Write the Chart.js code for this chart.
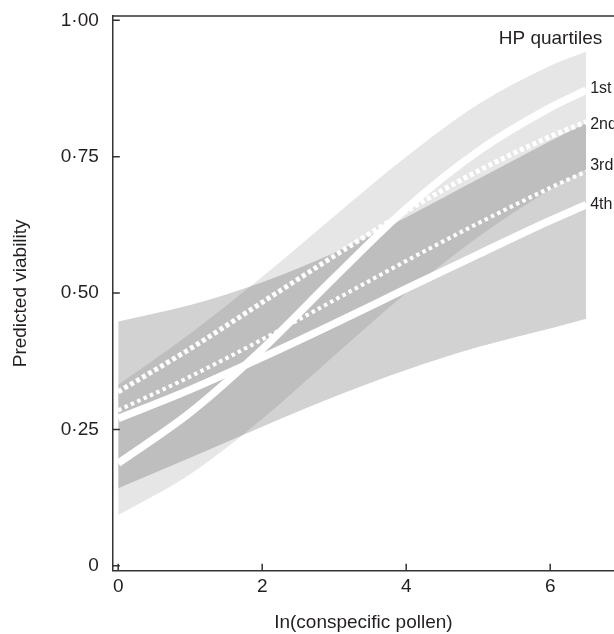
<!DOCTYPE html>
<html lang="en">
<head>
    <meta charset="UTF-8">
    <title>Predicted viability</title>
    <script src="https://cdn.jsdelivr.net/npm/chart.js@4.4.1/dist/chart.umd.min.js"></script>
    <style>
        body { margin: 0; background: #fff; }
        canvas { display: block; }
    </style>
</head>
<body>
    <canvas id="viabilityChart" width="614" height="634"></canvas>

    <script>
        // values, ln(conspecific pollen) on x
        const xVals = [0, 1, 2, 3, 4, 5, 6, 6.5];

        const q1 = [0.188, 0.281, 0.397, 0.528, 0.655, 0.760, 0.840, 0.872];
        const q2 = [0.319, 0.398, 0.483, 0.568, 0.650, 0.724, 0.787, 0.814];
        const q3 = [0.285, 0.347, 0.415, 0.487, 0.559, 0.628, 0.693, 0.723];
        const q4 = [0.270, 0.323, 0.382, 0.444, 0.508, 0.571, 0.633, 0.662];

        // confidence bands (1st and 4th quartile only)
        const q1Upper = [0.332, 0.426, 0.530, 0.641, 0.750, 0.846, 0.917, 0.943];
        const q1Lower = [0.093, 0.168, 0.269, 0.385, 0.500, 0.603, 0.690, 0.727];
        const q4Upper = [0.448, 0.478, 0.520, 0.574, 0.639, 0.709, 0.779, 0.812];
        const q4Lower = [0.142, 0.198, 0.255, 0.310, 0.359, 0.401, 0.435, 0.453];

        const quartileNames = ['1st', '2nd', '3rd', '4th'];
        const xTicks = [0, 2, 4, 6];
        const yTicks = [0, 0.25, 0.5, 0.75, 1];
        const yTickLabels = ['0', '0·25', '0·50', '0·75', '1·00'];

        const FONT = "'Liberation Sans', Arial, Helvetica, sans-serif";
        const INK = '#231f20';
        Chart.defaults.font.family = FONT;
        Chart.defaults.color = INK;

        const pts = arr => arr.map((v, i) => ({ x: xVals[i], y: v }));

        function band(upper, lower, colour) {
            return [
                { data: pts(upper), fill: '+1', backgroundColor: colour, borderWidth: 0, order: 10 },
                { data: pts(lower), fill: false, borderWidth: 0, order: 10 }
            ];
        }

        function curve(arr, width, dash) {
            return {
                data: pts(arr), fill: false, borderColor: '#ffffff',
                borderWidth: width, borderDash: dash || [], borderCapStyle: 'butt', order: dash ? 2 : 1
            };
        }

        // inward tick marks, top frame line and the quartile labels
        const decor = {
            id: 'decor',
            afterDatasetsDraw(chart) {
                const { ctx, chartArea: a, scales: { x, y } } = chart;
                ctx.save();
                ctx.strokeStyle = '#333';
                ctx.lineWidth = 1.5;
                ctx.beginPath();
                ctx.moveTo(a.left, a.top);
                ctx.lineTo(a.right, a.top);
                yTicks.forEach(v => {
                    const py = y.getPixelForValue(v);
                    ctx.moveTo(a.left, py);
                    ctx.lineTo(a.left + 7, py);
                });
                xTicks.forEach(v => {
                    const px = x.getPixelForValue(v);
                    ctx.moveTo(px, a.bottom);
                    ctx.lineTo(px, a.bottom - 7);
                });
                ctx.stroke();

                const last = xVals.length - 1;
                const xEnd = x.getPixelForValue(xVals[last]);
                const ends = [q1, q2, q3, q4];
                const nudge = [-2, 3, -6, 0];
                ctx.fillStyle = INK;
                ctx.textBaseline = 'middle';
                ctx.textAlign = 'left';
                ctx.font = '16px ' + FONT;
                quartileNames.forEach((t, i) => {
                    ctx.fillText(t, xEnd + 4, y.getPixelForValue(ends[i][last]) + nudge[i]);
                });
                ctx.font = '19px ' + FONT;
                ctx.textAlign = 'right';
                ctx.fillText('HP quartiles', xEnd + 16, y.getPixelForValue(0.967));
                ctx.restore();
            }
        };

        const ctx = document.getElementById('viabilityChart').getContext('2d');
        const viabilityChart = new Chart(ctx, {
            type: 'line',
            data: {
                datasets: [
                    ...band(q1Upper, q1Lower, 'rgba(0,0,0,0.098)'),
                    ...band(q4Upper, q4Lower, 'rgba(0,0,0,0.176)'),
                    curve(q2, 5, [4, 3]),
                    curve(q3, 4, [3.5, 3.5]),
                    curve(q1, 7.5),
                    curve(q4, 7.5)
                ]
            },
            options: {
                responsive: false,
                animation: false,
                layout: { padding: { top: 16, right: 0, bottom: 0, left: 0 } },
                elements: {
                    point: { radius: 0, hoverRadius: 0 },
                    line: { cubicInterpolationMode: 'monotone' }
                },
                plugins: { legend: { display: false }, tooltip: { enabled: false } },
                scales: {
                    x: {
                        type: 'linear',
                        min: -0.075,
                        max: 6.886,
                        afterBuildTicks: s => { s.ticks = xTicks.map(v => ({ value: v })); },
                        afterFit: s => { s.height = 63.3; s.paddingLeft = 0; s.paddingRight = 0; },
                        grid: { display: true, drawOnChartArea: false, drawTicks: false },
                        border: { color: '#333', width: 1.5 },
                        ticks: { font: { size: 19 }, padding: 5, maxRotation: 0 },
                        title: { display: true, text: 'In(conspecific pollen)', font: { size: 19 }, padding: { top: 0, bottom: 0 } }
                    },
                    y: {
                        min: -0.009,
                        max: 1.008,
                        afterBuildTicks: s => { s.ticks = yTicks.map(v => ({ value: v })); },
                        afterFit: s => { s.width = 112.8; s.paddingTop = 0; s.paddingBottom = 0; },
                        grid: { display: true, drawOnChartArea: false, drawTicks: false },
                        border: { color: '#333', width: 1.5 },
                        ticks: {
                            font: { size: 19 },
                            padding: 14,
                            callback: v => yTickLabels[yTicks.indexOf(v)]
                        },
                        title: { display: true, text: 'Predicted viability', font: { size: 19 }, padding: { top: 9, bottom: 0 } }
                    }
                }
            },
            plugins: [decor]
        });
    </script>
</body>
</html>
